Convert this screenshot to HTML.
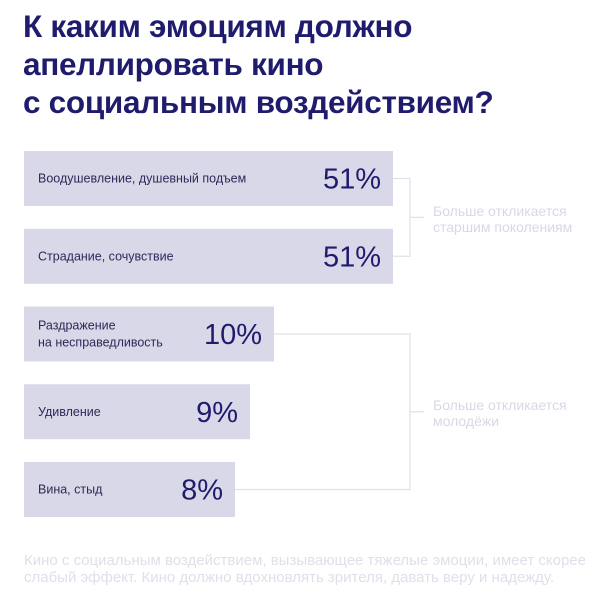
<!DOCTYPE html>
<html><head><meta charset="utf-8"><style>
body{margin:0;width:615px;height:600px;background:#fff;font-family:"Liberation Sans","Noto Sans CJK SC",sans-serif;position:relative;overflow:hidden}
h1{position:absolute;left:23px;top:7px;margin:0;font-size:31.5px;line-height:38px;color:#1f1c6e;font-weight:bold;letter-spacing:-0.3px}
.note{position:absolute;color:#d9d7e6;font-size:14px;line-height:16px}
.foot{position:absolute;left:24px;top:552px;color:#e0dfea;font-size:15px;line-height:17px;width:600px}
</style></head><body>
<h1>К каким эмоциям должно<br>апеллировать кино<br>с социальным воздействием?</h1>
<svg id="chart" width="615" height="540" style="position:absolute;left:0;top:0"></svg>
<div class="note" style="left:433px;top:203px">Больше откликается<br>старшим поколениям</div>
<div class="note" style="left:433px;top:397px">Больше откликается<br>молодёжи</div>
<div class="foot">Кино с социальным воздействием, вызывающее тяжелые эмоции, имеет скорее<br>слабый эффект. Кино должно вдохновлять зрителя, давать веру и надежду.</div>
<script>
const categories=[["Воодушевление, душевный подъем"],["Страдание, сочувствие"],["Раздражение","на несправедливость"],["Удивление"],["Вина, стыд"]];
const values=[51,51,10,9,8];
const valueLabels=["51%","51%","10%","9%","8%"];
const NS="http://www.w3.org/2000/svg";
const svg=document.getElementById('chart');
const dom=[0,8,9,10,51],rng=[0,211,226,250,369];
function xw(v){for(let i=1;i<dom.length;i++){if(v<=dom[i]||i==dom.length-1){return rng[i-1]+(v-dom[i-1])*(rng[i]-rng[i-1])/(dom[i]-dom[i-1]);}}}
function yb(i){return 151+i*77.75;}
const x0=24,bh=55;
function mk(t,a){const e=document.createElementNS(NS,t);for(const k in a)e.setAttribute(k,a[k]);svg.appendChild(e);return e;}
const rights=[];
values.forEach((v,i)=>{
 const w=xw(v),y=yb(i);
 const r=mk('rect',{x:x0,y:y,width:w,height:bh,fill:'#d9d8e8'});
 
 
 rights.push(x0+w);
 const lines=categories[i];
 lines.forEach((l,j)=>{
  const t=mk('text',{x:38,y:y+bh/2+4+(j-(lines.length-1)/2)*17,'font-size':12.5,fill:'#2b2a58'});
  t.textContent=l;
  
  
 });
 const p=mk('text',{x:x0+w-12,y:y+bh/2+10,'font-size':29,fill:'#1f1c6e','text-anchor':'end'});
 p.textContent=valueLabels[i];
 
 
});
function bracket(a,b,name){
 const ya=yb(a)+bh/2,ybb=yb(b)+bh/2,bx=410;
 const d='M'+rights[a]+' '+ya+'H'+bx+'V'+ybb+'H'+rights[b];
 const pth=mk('path',{d:d,fill:'none',stroke:'#e2e1ea','stroke-width':1.3});
 
 
 const ym=(ya+ybb)/2;
 mk('line',{x1:bx,x2:bx+14,y1:ym,y2:ym,stroke:'#e2e1ea','stroke-width':1.3});
}
bracket(0,1,'bracket-older');
bracket(2,4,'bracket-younger');
</script>
</body></html>
